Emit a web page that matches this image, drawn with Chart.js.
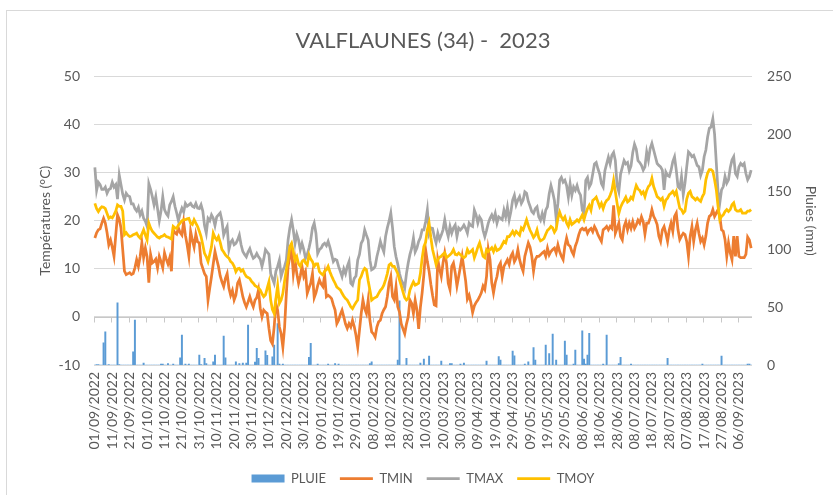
<!DOCTYPE html>
<html lang="fr">
<head>
<meta charset="utf-8">
<title>VALFLAUNES (34) - 2023</title>
<script src="https://cdn.jsdelivr.net/npm/chart.js@4.4.0/dist/chart.umd.min.js"></script>
<style>
  html, body { margin: 0; padding: 0; background: #fff; overflow: hidden; }
  #frame { position: absolute; left: 6px; top: 10px; width: 900px; height: 600px; border: 1px solid #d9d9d9; }
  #chart { position: absolute; left: 0; top: 0; }
</style>
</head>
<body>
<div id="frame"></div>
<canvas id="chart" width="833" height="495"></canvas>
<script>
// Relevés journaliers 01/09/2022 -> 13/09/2023
const FIRST_DAY = Date.UTC(2022, 8, 1);
const DAY_COUNT = 378;

const pluie = [
  0, 0.4, 0.4, 0, 0, 19.2, 28.8, 0, 0.4, 0,
  0, 0, 0, 53.9, 0.4, 0, 0, 0, 0, 0,
  0, 0, 11.5, 39, 0, 0, 0, 0, 1.7, 0,
  0, 0, 0, 0, 0, 0, 0, 0, 0.8, 0.8,
  0, 0, 1.3, 0, 0, 0.8, 0, 0, 0, 6.3,
  25.9, 0, 0.8, 0, 0.8, 0, 0, 0, 0, 0,
  8.7, 0.4, 0, 5.8, 1.3, 0, 0, 0, 2.8, 8.7,
  0, 0, 0, 0, 25, 6.3, 0, 0, 0, 0,
  0, 2.8, 0, 1.3, 0, 1.7, 0, 1.7, 34.6, 0,
  0, 0, 2.5, 14.4, 5.8, 0, 0, 0, 12.3, 8.3,
  0, 0, 7.1, 17.3, 0, 35.9, 0.8, 0, 0.8, 0,
  0, 0, 0, 0, 0, 0, 0, 0, 0, 0,
  0, 0, 0, 6.7, 18.8, 0, 0, 0, 0.8, 0,
  0, 0, 0, 0, 0.8, 0, 0, 0, 1.3, 0,
  0.8, 0, 0, 0, 0, 0, 0, 0, 0, 0,
  0, 0, 0, 0, 0, 0, 0, 0, 1.3, 2.8,
  0, 0, 0, 0, 0, 0, 0, 0, 0, 0,
  0, 0, 0, 0, 4.2, 55.6, 0, 0, 0, 5.8,
  0, 0, 0, 0, 0, 0, 0, 1.7, 0, 5.2,
  0, 0, 7.8, 0, 0, 0, 0, 0, 0, 3.3,
  0, 0, 0, 0, 1.3, 1.3, 0, 0, 0, 0,
  0.8, 0, 1.7, 0, 0, 0, 0, 0, 0, 0,
  0, 0, 0, 0, 0, 3.3, 0, 0, 0, 0,
  0, 0, 7.2, 4.2, 0, 0, 0, 0, 0, 0,
  12.1, 7.9, 0, 0, 0, 0, 0, 0.8, 0, 2.8,
  0, 0, 15, 4.2, 0, 0, 0, 0, 0, 17.3,
  0, 10, 0, 26.7, 0, 4.2, 0, 0, 0, 0,
  20.8, 8.7, 0, 0, 0, 0.8, 13, 0, 0, 0,
  29.7, 5.2, 0.8, 8.7, 27.4, 0, 0, 0, 0, 0,
  0, 0, 0.8, 0, 25.9, 0, 0, 0, 0, 0,
  0, 1.3, 6.7, 0, 0, 0, 0, 0, 0.8, 0,
  0, 0, 0, 0, 0, 0, 0, 0, 0, 0,
  0, 0, 0, 0, 0, 0, 0, 0, 0, 5.8,
  0, 0, 0, 0, 0, 0, 0, 0, 0, 0,
  0, 0, 0, 0, 0, 0, 0, 0, 0, 0.8,
  0, 0, 0, 0, 0, 0, 0, 0, 0, 0,
  7.8, 0, 0, 0, 0, 0, 0, 0, 0, 0,
  0, 0, 0, 0, 0, 0.8, 0.8, 0
];

const tmin = [
  16.4, 17.5, 18.1, 18.3, 19.5, 20.5, 19.5, 17.5, 15, 16,
  14.5, 12.6, 17, 21.2, 20.3, 18.5, 14, 9.5, 8.8, 9,
  9.2, 8.8, 9, 10.2, 11.9, 10.5, 12.5, 15.4, 12.3, 14.3,
  12.5, 7.1, 13, 11.2, 11.5, 12, 10.2, 12.6, 11.5, 10.2,
  13.3, 12, 11, 12.3, 9.5, 18.1, 17.5, 17.2, 18.5, 17.5,
  17, 19.8, 17, 15, 12.6, 17.8, 16, 14.5, 17.2, 15.6,
  15.4, 11.2, 10.1, 9, 8.4, 3.5, 6, 8.4, 11, 13.6,
  12, 10.5, 8.5, 7.3, 6.3, 8, 9, 6, 4.5, 5.5,
  3.5, 4.5, 7, 7.7, 6, 4.2, 3, 2.1, 3.1, 4.2,
  3, 2.1, 3.5, 4, 5.6, 1.8, 0, 1.4, 1, 0.7,
  -2.4, -4.9, -5.6, -2.1, 2.8, 1.4, -2.1, -3.5, -6.3, -2.1,
  4.9, 10.5, 12.5, 13.9, 9, 11.8, 9, 7, 8.5, 10.5,
  8.4, 9.4, 4.9, 6, 7, 9, 4, 5, 6.5, 7.7,
  6.8, 6.3, 8.7, 4.2, 4.5, 4.2, 3.8, 2.5, 1.4, -1.4,
  -0.7, 0.5, 1.4, 0, -1.5, -2.4, -1.4, -2.1, -0.7, -2,
  -3.8, -6.3, -2.8, 0.7, 3.5, 1.7, 0.7, 3.5, -0.7, -3.1,
  -3.5, -4.2, -2.1, -1, -0.7, 0.7, 1.5, 2.1, 4.2, 7,
  8.4, 4.2, 3.5, 6.3, 2.1, 1, -1.4, -2.5, -3.5, -1.5,
  0, 3.5, 2.8, 0.7, 3.5, 1.5, -2.5, 2, 5, 8.8,
  14, 11.5, 9.5, 6.8, 4.5, 2.5, 2.3, 11.9, 10, 8.4,
  11.2, 13.3, 11.2, 7, 5.7, 10.5, 11.2, 9.2, 6.4, 8.4,
  10.5, 12.6, 10, 7.5, 3.7, 4.5, 3, 0.9, 2.3, 3,
  3.5, 4.2, 5, 6.4, 5.7, 8.4, 14, 11.9, 7.1, 5,
  7.1, 8.4, 10.5, 11.2, 8.4, 10.5, 11.2, 11.9, 10.9, 12.6,
  13.3, 11.5, 12.2, 14, 11.9, 10.5, 9.5, 12.6, 14, 15.4,
  14.5, 12.6, 9.5, 11.9, 12.6, 12.6, 12.9, 13.3, 13.6, 12.6,
  14.3, 12.9, 13.6, 14, 14.3, 13.3, 15, 13.6, 12.6, 11.9,
  14.7, 16.4, 15, 14.7, 13.6, 12.9, 14.7, 15.7, 17.1, 18.1,
  18.4, 18.1, 18.4, 17.4, 18.1, 18.4, 17.7, 18.8, 18.1, 17.1,
  16.4, 15.7, 18.1, 18.4, 18.8, 18.1, 18.8, 18.4, 23.2, 17.4,
  18.4, 19.5, 16.7, 16, 18.8, 19.8, 18.1, 19.5, 18.4, 19.8,
  18.4, 19.1, 20.1, 19.5, 20.8, 19.8, 17.2, 19.5, 19.5, 20.6,
  22.3, 20.9, 20.2, 19.2, 16.8, 15.7, 18.1, 18.8, 17.4, 15.7,
  18.1, 19.5, 17.8, 20.9, 21.6, 18.1, 16.1, 16.8, 17.4, 17.1,
  15.7, 12.6, 16.8, 18.8, 15.7, 18.1, 19.5, 17.4, 15.7, 16.4,
  15, 16.8, 19.5, 20.9, 21.2, 22.3, 20.9, 21.6, 22.3, 20.9,
  18.1, 17.8, 16.1, 12.6, 15.4, 13.3, 11.9, 16.8, 12.6, 16.8,
  12.6, 12.3, 12.3, 12.3, 13, 16.6, 16, 14.3
];

const tmax = [
  31.1, 26.3, 28, 27.5, 26.5, 26.5, 27, 25.7, 26.5, 26.7,
  28, 27, 27.5, 24.5, 29.5, 27.5, 25.5, 24.3, 25.7, 25.2,
  25, 23.5, 23.5, 22.5, 22, 22.8, 21.2, 22, 20.5, 19.9,
  18.8, 27.7, 26.5, 25, 23.3, 25, 22.5, 20, 22, 25,
  22.3, 21.5, 21, 23.3, 24, 25, 23, 21.6, 20, 21.5,
  22.6, 21.8, 23.6, 23, 23.3, 23.6, 23, 22.8, 23.6, 22.6,
  22.5, 23.3, 22, 19, 17.4, 20.5, 20, 21.2, 20.5, 19,
  20.8, 21.2, 21.6, 20, 17, 18, 18.8, 14, 15.5, 16,
  15, 15.3, 16, 17, 15, 13.6, 13, 12.5, 13.5, 14.2,
  13, 12.2, 12.5, 13.2, 12.5, 12, 10.5, 12, 14, 13.5,
  13, 9, 8, 7, 9.5, 10.5, 11.8, 8.4, 9.6, 10.5,
  11.8, 16, 18.5, 20.2, 18, 15.3, 17.2, 16, 14, 15.3,
  14, 12.2, 13, 14.3, 16, 18.5, 19.5, 17.4, 13.2, 14,
  14.3, 15, 15.3, 14.8, 15.7, 14.5, 13, 11.5, 12, 11.8,
  10.5, 9.5, 8.4, 10, 9, 10.5, 11.5, 7, 6.6, 8,
  8.5, 11.8, 13, 15.3, 16, 18.1, 17, 16, 11.8, 9.8,
  10, 10.5, 12.5, 14, 15.7, 14.5, 13.5, 16.7, 18.5, 19.9,
  21.6, 18.5, 14.6, 12.5, 11, 9, 7.7, 7, 6, 9,
  11.2, 13, 14.3, 16.4, 13.5, 14.3, 15.7, 16.5, 18.1, 18.1,
  19.8, 22.2, 17.4, 18.5, 18.4, 16.7, 15.4, 17.4, 16.1, 17,
  18.1, 20.2, 18.1, 16.7, 18.8, 17.4, 18.5, 19.1, 16.7, 18.5,
  18.1, 18.5, 19.1, 18.4, 17.4, 19.5, 19, 18.8, 22.2, 21.2,
  19.5, 20.8, 20.2, 18, 16.7, 18, 19.5, 20.5, 21.2, 20.2,
  21.5, 19.5, 20.8, 20.5, 20.2, 22.2, 20.8, 22.8, 20.2, 21.9,
  24.3, 25.3, 23.3, 24.3, 25, 23.6, 24.3, 26, 25.7, 24,
  23, 21.9, 21.5, 22.5, 22.9, 20.8, 20.1, 21.5, 20.1, 22.2,
  22.9, 25.6, 27.3, 25.9, 24.2, 20.5, 23.6, 28.4, 29, 28,
  28.4, 27.3, 24.9, 27.7, 25.3, 27, 26.3, 27.3, 26, 25.3,
  22.2, 21.5, 28.4, 29, 27, 27.7, 29.7, 31.8, 32.1, 30.8,
  29.7, 27.7, 27, 30.4, 31.8, 33.2, 31.8, 33.6, 34.2, 32.5,
  27.3, 26, 29.7, 31.1, 32.5, 31.8, 32.1, 30.4, 31.4, 34.2,
  35.9, 34.9, 32.5, 32.1, 31.5, 30.5, 31.2, 34.3, 32.6, 35,
  36.1, 34.7, 33.3, 31.9, 31.5, 31.2, 30.5, 26.4, 30.1, 29.4,
  29.2, 30.5, 32.3, 33.3, 30.5, 27.1, 26.7, 29.2, 25.4, 27.8,
  31.2, 34.3, 33.9, 33.3, 33.6, 32.6, 31.5, 31.2, 29.4, 30.5,
  33.3, 34.7, 37.4, 39.2, 39.5, 41.2, 38, 32, 26, 23.7,
  26.4, 27.1, 29.2, 27.8, 28.5, 31, 32.6, 33.3, 29.8, 29.2,
  31.2, 31.9, 31.5, 31.9, 29.8, 28.5, 29.2, 30.5
];

const tmoy = [
  23.6, 22.5, 21.9, 22.5, 22.9, 22.8, 22.5, 21.5, 20.5, 20.8,
  20.6, 21.2, 22, 23.3, 23, 23, 22, 17.1, 17.5, 17,
  16.7, 16.8, 17.1, 17.2, 17.4, 16.8, 16.4, 17.2, 18.1, 17,
  16, 19.5, 18.5, 17.8, 17.4, 17, 16.6, 16.4, 16.7, 16.8,
  17.1, 16.7, 16.6, 16.4, 16.2, 18.8, 18.5, 18.4, 19.1, 19.5,
  20, 20.2, 20.2, 20.4, 20.5, 19.5, 19.2, 20.2, 19.5, 18.8,
  17.8, 16.7, 15, 13.2, 12.5, 11.5, 13, 14.6, 17.4, 16.5,
  16, 16.7, 15.5, 14, 13.5, 12.9, 12.5, 12.2, 11.5, 11.2,
  10.5, 9.4, 10, 10.1, 9.5, 9.8, 9, 8.4, 8.2, 8,
  7.4, 7, 6.5, 6.3, 6, 5.6, 4.8, 4.2, 4.6, 6,
  7.3, 3.5, 1.5, 0.7, 3.8, 6.5, 2.8, 3.5, 4.9, 7.5,
  9.8, 11.8, 14.6, 15.3, 13.5, 11.8, 12.5, 11, 10.5, 11.5,
  11.8, 11.2, 10.8, 12.9, 12, 11.5, 10.5, 11, 11, 9.4,
  9, 8.7, 9.5, 9.8, 10.5, 9.4, 8.5, 7.7, 7, 6.2,
  5.9, 5.6, 4.9, 4.3, 3.8, 3.5, 2.8, 2.1, 1.7, 2.4,
  3, 3.5, 7.7, 8.4, 9.5, 10.1, 9.8, 7.5, 5.6, 3.5,
  3.8, 4, 4.2, 4.9, 5.5, 5.9, 6.6, 7.7, 9, 10.8,
  11.1, 10.5, 10.5, 9.8, 9, 7.7, 6.5, 5.2, 4, 3.5,
  3.8, 5.6, 6.5, 7.3, 6.6, 6.8, 7, 9, 12.2, 14.6,
  15.5, 18.1, 19.5, 16.5, 14, 12.5, 10.9, 11.9, 12.4, 12.6,
  13, 13.3, 12.3, 12.6, 12.9, 13.3, 14, 13, 12.9, 13.3,
  12.9, 12.6, 12.3, 12.6, 14, 13.3, 13.6, 14, 12.3, 13.3,
  14.5, 15.4, 14, 12.6, 12.3, 14, 13.6, 14, 14.4, 13.6,
  14.6, 13.8, 14, 14.3, 15, 15.7, 15.4, 16.7, 16.7, 17.2,
  17.8, 17.1, 17.8, 17.4, 17, 18.5, 18.1, 19.1, 20.2, 19,
  18, 17.3, 16.5, 17, 18.1, 16.5, 15.8, 16, 16.3, 17.2,
  18, 18.3, 18.8, 18.5, 17.6, 18.2, 20.5, 21.8, 20.8, 20.2,
  20.8, 19.5, 18.8, 20.2, 19.2, 19.5, 19.8, 20.2, 19.8, 20.5,
  21.2, 20.2, 21.5, 22.5, 23.2, 22.2, 24.2, 24.5, 24.9, 23.9,
  22.9, 23.6, 22.5, 23.6, 24.2, 24.5, 25.3, 26.3, 28.4, 26,
  23.6, 21.5, 22.8, 23.6, 24.2, 24.9, 23.9, 24.2, 24.9, 24.5,
  26, 27.3, 26.6, 26.3, 25.6, 26, 25, 26.3, 27.1, 27.5,
  28.8, 27.1, 26.1, 25, 24.7, 24.3, 24.7, 23, 24.3, 24.7,
  25.4, 25.7, 26.1, 25.4, 26.1, 24.3, 22.6, 22.3, 21.6, 22,
  24.5, 25.7, 26.1, 25, 24.7, 24.3, 24.7, 24.3, 24, 25,
  25.7, 28.5, 29.9, 30.6, 30.6, 30.3, 28.5, 26.4, 23, 20.2,
  20.9, 21.2, 21.9, 22.3, 21.9, 22.3, 23.3, 23.7, 22.3, 22,
  22, 22.3, 21.6, 21.6, 21.6, 22, 22, 22.3
];

const TEXT = '#595959';
const GRID = '#d9d9d9';
const FONT = 'Lato, "Open Sans", sans-serif';

// one label per day, dd/mm/yyyy
const labels = [];
for (let i = 0; i < DAY_COUNT; i++) {
  const d = new Date(FIRST_DAY + i * 86400000);
  labels.push(String(d.getUTCDate()).padStart(2, '0') + '/' +
              String(d.getUTCMonth() + 1).padStart(2, '0') + '/' + d.getUTCFullYear());
}

// category axis crossing at 0 °C, with a tick mark every 10 days
const zeroAxis = {
  id: 'zeroAxis',
  beforeDatasetsDraw(chart) {
    const { ctx, chartArea, scales: { x, y } } = chart;
    const y0 = Math.round(y.getPixelForValue(0)) + 0.5;
    const half = (x.getPixelForValue(1) - x.getPixelForValue(0)) / 2;
    ctx.save();
    ctx.strokeStyle = '#c8c8c8';
    ctx.lineWidth = 1;
    ctx.beginPath();
    ctx.moveTo(chartArea.left, y0);
    ctx.lineTo(chartArea.right, y0);
    for (let i = 0; i < labels.length; i += 10) {
      const px = Math.round(x.getPixelForValue(i) - half) + 0.5;
      ctx.moveTo(px, y0);
      ctx.lineTo(px, y0 + 5);
    }
    ctx.stroke();
    ctx.restore();
  }
};

function drawChart() {
  new Chart(document.getElementById('chart'), {
    type: 'bar',
    data: {
      labels: labels,
      datasets: [
        { type: 'bar', label: 'PLUIE', data: pluie, yAxisID: 'y1',
          backgroundColor: '#5B9BD5', borderWidth: 0, barThickness: 1.3, order: 4 },
        { type: 'line', label: 'TMIN', data: tmin, yAxisID: 'y',
          borderColor: '#ED7D31', backgroundColor: '#ED7D31', borderWidth: 2.75,
          pointRadius: 0, order: 3 },
        { type: 'line', label: 'TMAX', data: tmax, yAxisID: 'y',
          borderColor: '#A5A5A5', backgroundColor: '#A5A5A5', borderWidth: 2.75,
          pointRadius: 0, order: 2 },
        { type: 'line', label: 'TMOY', data: tmoy, yAxisID: 'y',
          borderColor: '#FFC000', backgroundColor: '#FFC000', borderWidth: 2.75,
          pointRadius: 0, order: 1 }
      ]
    },
    options: {
      responsive: false,
      animation: false,
      layout: { padding: 0 },
      plugins: {
        title: {
          display: true,
          fullSize: false,
          text: 'VALFLAUNES (34) -  2023',
          color: TEXT,
          font: { family: FONT, size: 22, weight: 'normal' },
          padding: { top: 28, bottom: 22 }
        },
        legend: {
          position: 'bottom',
          fullSize: false,
          labels: {
            color: TEXT,
            font: { family: FONT, size: 13 },
            usePointStyle: true,
            pointStyleWidth: 33,
            boxHeight: 8,
            padding: 14,
            sort: (a, b) => a.datasetIndex - b.datasetIndex,
            generateLabels(chart) {
              const items = Chart.defaults.plugins.legend.labels.generateLabels(chart);
              items.forEach(it => { it.pointStyle = it.datasetIndex === 0 ? 'rect' : 'line'; });
              return items;
            }
          }
        },
        tooltip: { enabled: false }
      },
      scales: {
        x: {
          grid: { display: false, drawTicks: false },
          border: { display: false },
          ticks: {
            autoSkip: false,
            minRotation: 90,
            maxRotation: 90,
            padding: 7,
            color: TEXT,
            font: { family: FONT, size: 14 },
            callback: (v, i) => (i % 10 === 0 ? labels[i] : '')
          },
          afterFit(s) { s.height = 93; }
        },
        y: {
          position: 'left',
          min: -10,
          max: 50,
          ticks: { stepSize: 10, padding: 14, color: TEXT, font: { family: FONT, size: 14 } },
          grid: { color: GRID, drawTicks: false },
          border: { display: false },
          title: {
            display: true,
            text: 'Températures (°C)',
            color: TEXT,
            font: { family: FONT, size: 14 },
            padding: { top: 37, bottom: 0 }
          },
          afterFit(s) { s.width = 94; }
        },
        y1: {
          position: 'right',
          min: 0,
          max: 250,
          ticks: { stepSize: 50, padding: 15, color: TEXT, font: { family: FONT, size: 14 } },
          grid: { display: false, drawTicks: false },
          border: { display: false },
          title: {
            display: true,
            text: 'Pluies (mm)',
            color: TEXT,
            font: { family: FONT, size: 14 },
            padding: { top: 14, bottom: 0 }
          },
          afterFit(s) { s.width = 81; }
        }
      }
    },
    plugins: [zeroAxis]
  });
}

Promise.all([
  document.fonts.load('14px Lato'),
  document.fonts.load('22px Lato')
]).then(drawChart, drawChart);
</script>
</body>
</html>
